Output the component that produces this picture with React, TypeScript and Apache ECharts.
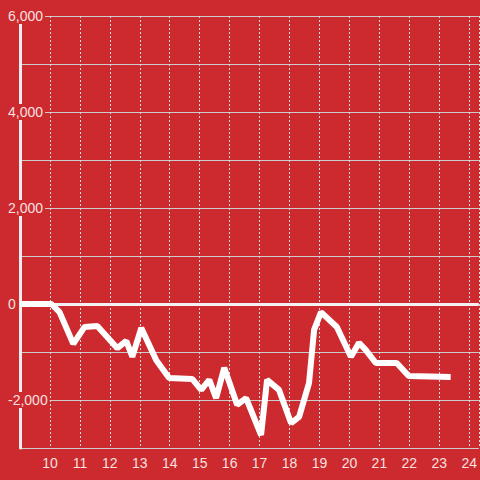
import React, { useEffect, useRef } from "react";
import * as echarts from "echarts";

const hours = [9, 10.05, 10.32, 10.78, 11.15, 11.58, 12.25, 12.55, 12.75, 13.05, 13.55, 13.98, 14.75, 15.05, 15.32, 15.55, 15.82, 16.25, 16.55, 17.05, 17.25, 17.65, 18.05, 18.32, 18.65, 18.82, 19.05, 19.58, 20.05, 20.32, 20.55, 20.88, 21.58, 21.98, 23.38];
const values = [0, 0, -170, -830, -480, -460, -920, -770, -1100, -500, -1170, -1540, -1560, -1790, -1580, -1960, -1330, -2100, -1960, -2730, -1580, -1790, -2480, -2350, -1650, -540, -170, -480, -1100, -810, -960, -1230, -1230, -1500, -1520];
const yTicksLabeled = [-2000, 0, 2000, 4000, 6000];

const BG = "#cc2a2e";
const TEXT = "#f7e0e0";
const FONT = "'Liberation Sans', Arial, sans-serif";

export default function App() {
  const ref = useRef<HTMLDivElement>(null);
  useEffect(() => {
    if (!ref.current) return;
    const chart = echarts.init(ref.current, null, { renderer: "svg" });
    const data = hours.map((h, i) => [h, values[i]]);
    chart.setOption({
      animation: false,
      backgroundColor: BG,
      grid: { left: 20, right: 0, top: 16, bottom: 32, containLabel: false },
      xAxis: {
        type: "value",
        min: 9,
        max: 24.32,
        interval: 1,
        axisLine: { show: false, onZero: false },
        axisTick: { show: false },
        axisLabel: {
          color: TEXT,
          fontSize: 14,
          fontFamily: FONT,
          margin: 8,
          showMinLabel: false,
          showMaxLabel: false,
        },
        splitLine: { show: true, lineStyle: { color: "#dddddd", width: 1, type: [2, 2] } },
      },
      yAxis: {
        type: "value",
        min: -3000,
        max: 6000,
        interval: 1000,
        axisLine: { show: true, lineStyle: { color: "#eeeeee", width: 3 } },
        axisTick: { show: false },
        axisLabel: {
          margin: 14,
          align: "left",
          formatter: (v: number) =>
            yTicksLabeled.includes(v) ? "{a|" + v.toLocaleString("en-US") + "}" : "",
          rich: {
            a: {
              color: TEXT,
              fontSize: 14,
              fontFamily: FONT,
              backgroundColor: BG,
              padding: [1, 2, 1, 2],
            },
          },
        },
        splitLine: { show: true, lineStyle: { color: "#cccccc", width: 1 } },
      },
      series: [
        {
          type: "line",
          data,
          showSymbol: false,
          symbol: "none",
          lineStyle: { color: "#ffffff", width: 6 },
          z: 5,
          markLine: {
            silent: true,
            symbol: "none",
            label: { show: false },
            lineStyle: { color: "#f2f2f2", width: 3, type: "solid" },
            data: [{ yAxis: 0 }],
            z: 3,
          },
        },
      ],
    });
    return () => chart.dispose();
  }, []);
  return (
    <div
      ref={ref}
      style={{ position: "fixed", left: 0, top: 0, width: 480, height: 480 }}
    />
  );
}
